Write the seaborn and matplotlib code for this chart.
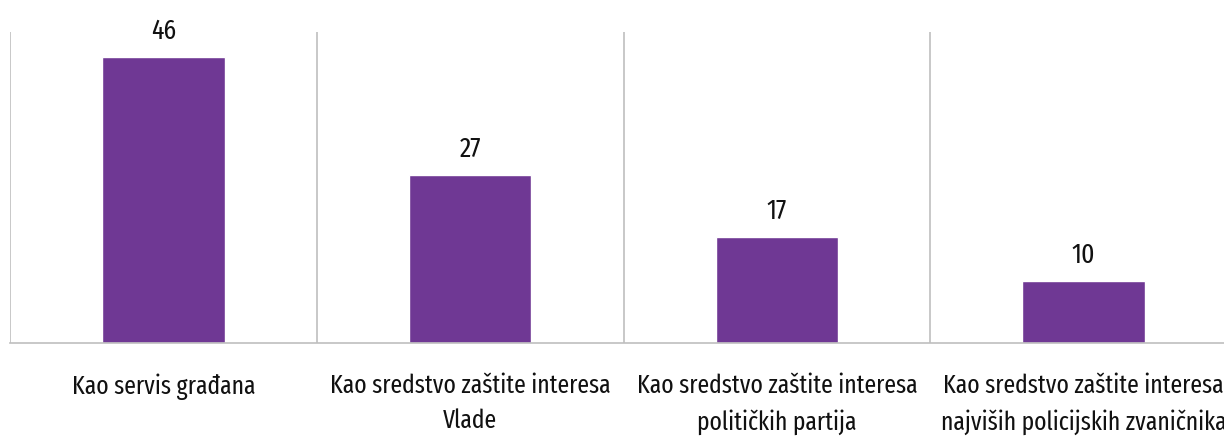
import matplotlib
matplotlib.use("Agg")
import matplotlib.pyplot as plt
import seaborn as sns
import pandas as pd

# ── data ────────────────────────────────────────────────────────────
categories = [
    "Kao servis građana",
    "Kao sredstvo zaštite interesa\nVlade",
    "Kao sredstvo zaštite interesa\npolitičkih partija",
    "Kao sredstvo zaštite interesa\nnajviših policijskih zvaničnika",
]
values = [46, 27, 17, 10]

df = pd.DataFrame({"Kategorija": categories, "Procenat": values})

sns.set_theme(style="white")
plt.rcParams["font.family"] = ["Fira Sans Extra Condensed", "DejaVu Sans"]

fig = plt.figure(figsize=(12.24, 4.38), dpi=100)
# axes run a bit past the right edge, like the original crop
ax = fig.add_axes([10 / 1224, (438 - 343) / 438, 1227 / 1224, (343 - 32) / 438])

sns.barplot(data=df, x="Kategorija", y="Procenat", color="#6F3894",
            width=0.4, saturation=1, ax=ax)

for c in ax.containers:
    ax.bar_label(c, padding=9, fontsize=20, color="#111111")

ax.set_xlim(-0.5, len(categories) - 0.5)
ax.set_ylim(0, 50)
ax.set_xlabel("")
ax.set_ylabel("")
ax.set_yticks([])

# category separators
ax.set_xticks([i - 0.5 for i in range(len(categories) + 1)], minor=True)
ax.grid(True, which="minor", axis="x", color="#BFBFBF", linewidth=1.2)
ax.tick_params(axis="x", which="minor", length=10, width=1.2,
               color="#BFBFBF", direction="out")
ax.tick_params(axis="x", which="major", length=0, pad=22,
               labelsize=18.5, labelcolor="#111111")
for lbl in ax.get_xticklabels():
    lbl.set_linespacing(1.5)

for side in ["top", "right", "left"]:
    ax.spines[side].set_visible(False)
ax.spines["bottom"].set_color("#BFBFBF")
ax.spines["bottom"].set_linewidth(1.2)

plt.savefig("out.png", dpi=100)
